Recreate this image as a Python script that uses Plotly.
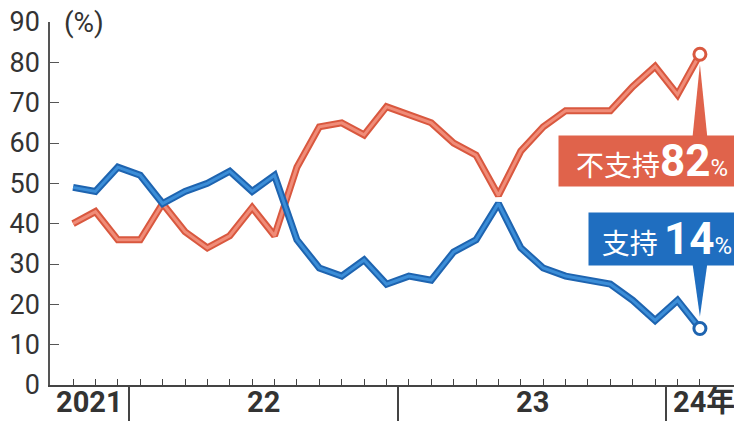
import plotly.graph_objects as go

# ---- data (monthly, Oct 2021 - Feb 2024) ----
year_labels = ["2021", "22", "23", "24年"]
months_per_year = [3, 12, 12, 2]
support = [49, 48, 54, 52, 45, 48, 50, 53, 48, 52, 36, 29, 27, 31, 25,
           27, 26, 33, 36, 45, 34, 29, 27, 26, 25, 21, 16, 21, 14]
nonsupport = [40, 43, 36, 36, 45, 38, 34, 37, 44, 37, 54, 64, 65, 62, 69,
              67, 65, 60, 57, 47, 58, 64, 68, 68, 68, 74, 79, 72, 82]
y_ticks = [0, 10, 20, 30, 40, 50, 60, 70, 80, 90]

n = len(support)
idx = list(range(n))

RED_EDGE, RED_FILL, RED_BOX = "#D9583F", "#F08C78", "#E0634B"
BLUE_EDGE, BLUE_FILL, BLUE_BOX = "#1E64B0", "#3C8ED8", "#1F6EC0"
TXT = "#333333"
NUMFONT = "Roboto"
JPFONT = "Noto Sans CJK JP"

fig = go.Figure()
for vals, edge, fill in [(nonsupport, RED_EDGE, RED_FILL), (support, BLUE_EDGE, BLUE_FILL)]:
    fig.add_trace(go.Scatter(x=idx, y=vals, mode="lines",
                             line=dict(color=edge, width=7), hoverinfo="skip"))
    fig.add_trace(go.Scatter(x=idx, y=vals, mode="lines",
                             line=dict(color=fill, width=3), hoverinfo="skip"))

# pointer triangles (from the label boxes to the last points)
xl = idx[-1]
fig.add_shape(type="path", xref="x", yref="y", layer="above",
              path=f"M {xl-0.33},61.5 L {xl+0.33},61.5 L {xl},{nonsupport[-1]-2.5} Z",
              fillcolor=RED_BOX, line=dict(width=0))
fig.add_shape(type="path", xref="x", yref="y", layer="above",
              path=f"M {xl-0.33},30 L {xl+0.33},30 L {xl},{support[-1]+3} Z",
              fillcolor=BLUE_BOX, line=dict(width=0))

# end markers
for vals, edge in [(nonsupport, RED_EDGE), (support, BLUE_EDGE)]:
    fig.add_trace(go.Scatter(x=[idx[-1]], y=[vals[-1]], mode="markers",
                             marker=dict(size=12, color="white",
                                         line=dict(color=edge, width=3)),
                             hoverinfo="skip"))

# year dividers and labels
bounds = [0]
for c in months_per_year:
    bounds.append(bounds[-1] + c)
dividers = [b - 0.5 for b in bounds[1:-1]]
xmin, xmax = -1.03, 29.88
seg_edges = [xmin] + dividers + [xmax]

# the page body adds an 8px offset, so the figure is 8px smaller than the window
fig.update_layout(
    width=734, height=413,
    margin=dict(l=42, r=0, t=14, b=36),
    paper_bgcolor="white", plot_bgcolor="white",
    showlegend=False,
    xaxis=dict(range=[xmin, xmax], tickvals=idx, ticks="inside", ticklen=6,
               tickwidth=1.2, tickcolor="#444", showticklabels=False,
               showline=True, linecolor="#444", linewidth=2, automargin=False,
               showgrid=False, zeroline=False, fixedrange=True),
    xaxis2=dict(range=[xmin, xmax], overlaying="x", anchor="y", side="bottom",
                tickvals=dividers, ticks="outside", ticklen=40, tickwidth=1.5,
                tickcolor="#444", showticklabels=False, showline=False,
                automargin=False,
                showgrid=False, zeroline=False, fixedrange=True),
    yaxis=dict(range=[0, 90], tickvals=y_ticks, ticks="inside", ticklen=9,
               tickwidth=1.3, tickcolor="#555", showline=True,
               linecolor="#555", linewidth=1.5, showgrid=False,
               zeroline=False, ticklabelstandoff=3, automargin=False,
               ticklabeloverflow="allow",
               tickfont=dict(family=NUMFONT, size=27, color=TXT),
               fixedrange=True),
)
# dummy trace to activate xaxis2
fig.add_trace(go.Scatter(x=[idx[0]], y=[None], xaxis="x2", yaxis="y",
                         mode="markers", hoverinfo="skip"))

for lab, a, b in zip(year_labels, seg_edges[:-1], seg_edges[1:]):
    fig.add_annotation(x=(a + b) / 2, y=0, xref="x", yref="paper",
                       yanchor="top", yshift=2, showarrow=False,
                       text=f"<b>{lab}</b>",
                       font=dict(family=NUMFONT + ", " + JPFONT, size=29, color=TXT))

fig.add_annotation(x=0, y=90, xref="paper", yref="y", xanchor="left",
                   yanchor="middle", xshift=12, showarrow=False, text="(%)",
                   font=dict(family=NUMFONT, size=28, color=TXT))

# label boxes
fig.add_annotation(x=1, y=61.9, xref="paper", yref="y", xanchor="right",
                   yanchor="top", xshift=4, showarrow=False,
                   width=186, height=50, borderpad=0, bgcolor=RED_BOX,
                   align="center", valign="middle",
                   text=("不支持<span style='font-family:Roboto;font-size:44px'><b>"
                         f"{nonsupport[-1]}</b></span>"
                         "<span style='font-family:Roboto;font-size:24px'>%</span>"),
                   font=dict(family=JPFONT, size=28, color="white"))
fig.add_annotation(x=1, y=42.8, xref="paper", yref="y", xanchor="right",
                   yanchor="top", xshift=4, showarrow=False,
                   width=156, height=52, borderpad=0, bgcolor=BLUE_BOX,
                   align="center", valign="middle",
                   text=("支持 <span style='font-family:Roboto;font-size:44px'><b>"
                         f"{support[-1]}</b></span>"
                         "<span style='font-family:Roboto;font-size:24px'>%</span>"),
                   font=dict(family=JPFONT, size=28, color="white"))

fig.write_html("out.html")
